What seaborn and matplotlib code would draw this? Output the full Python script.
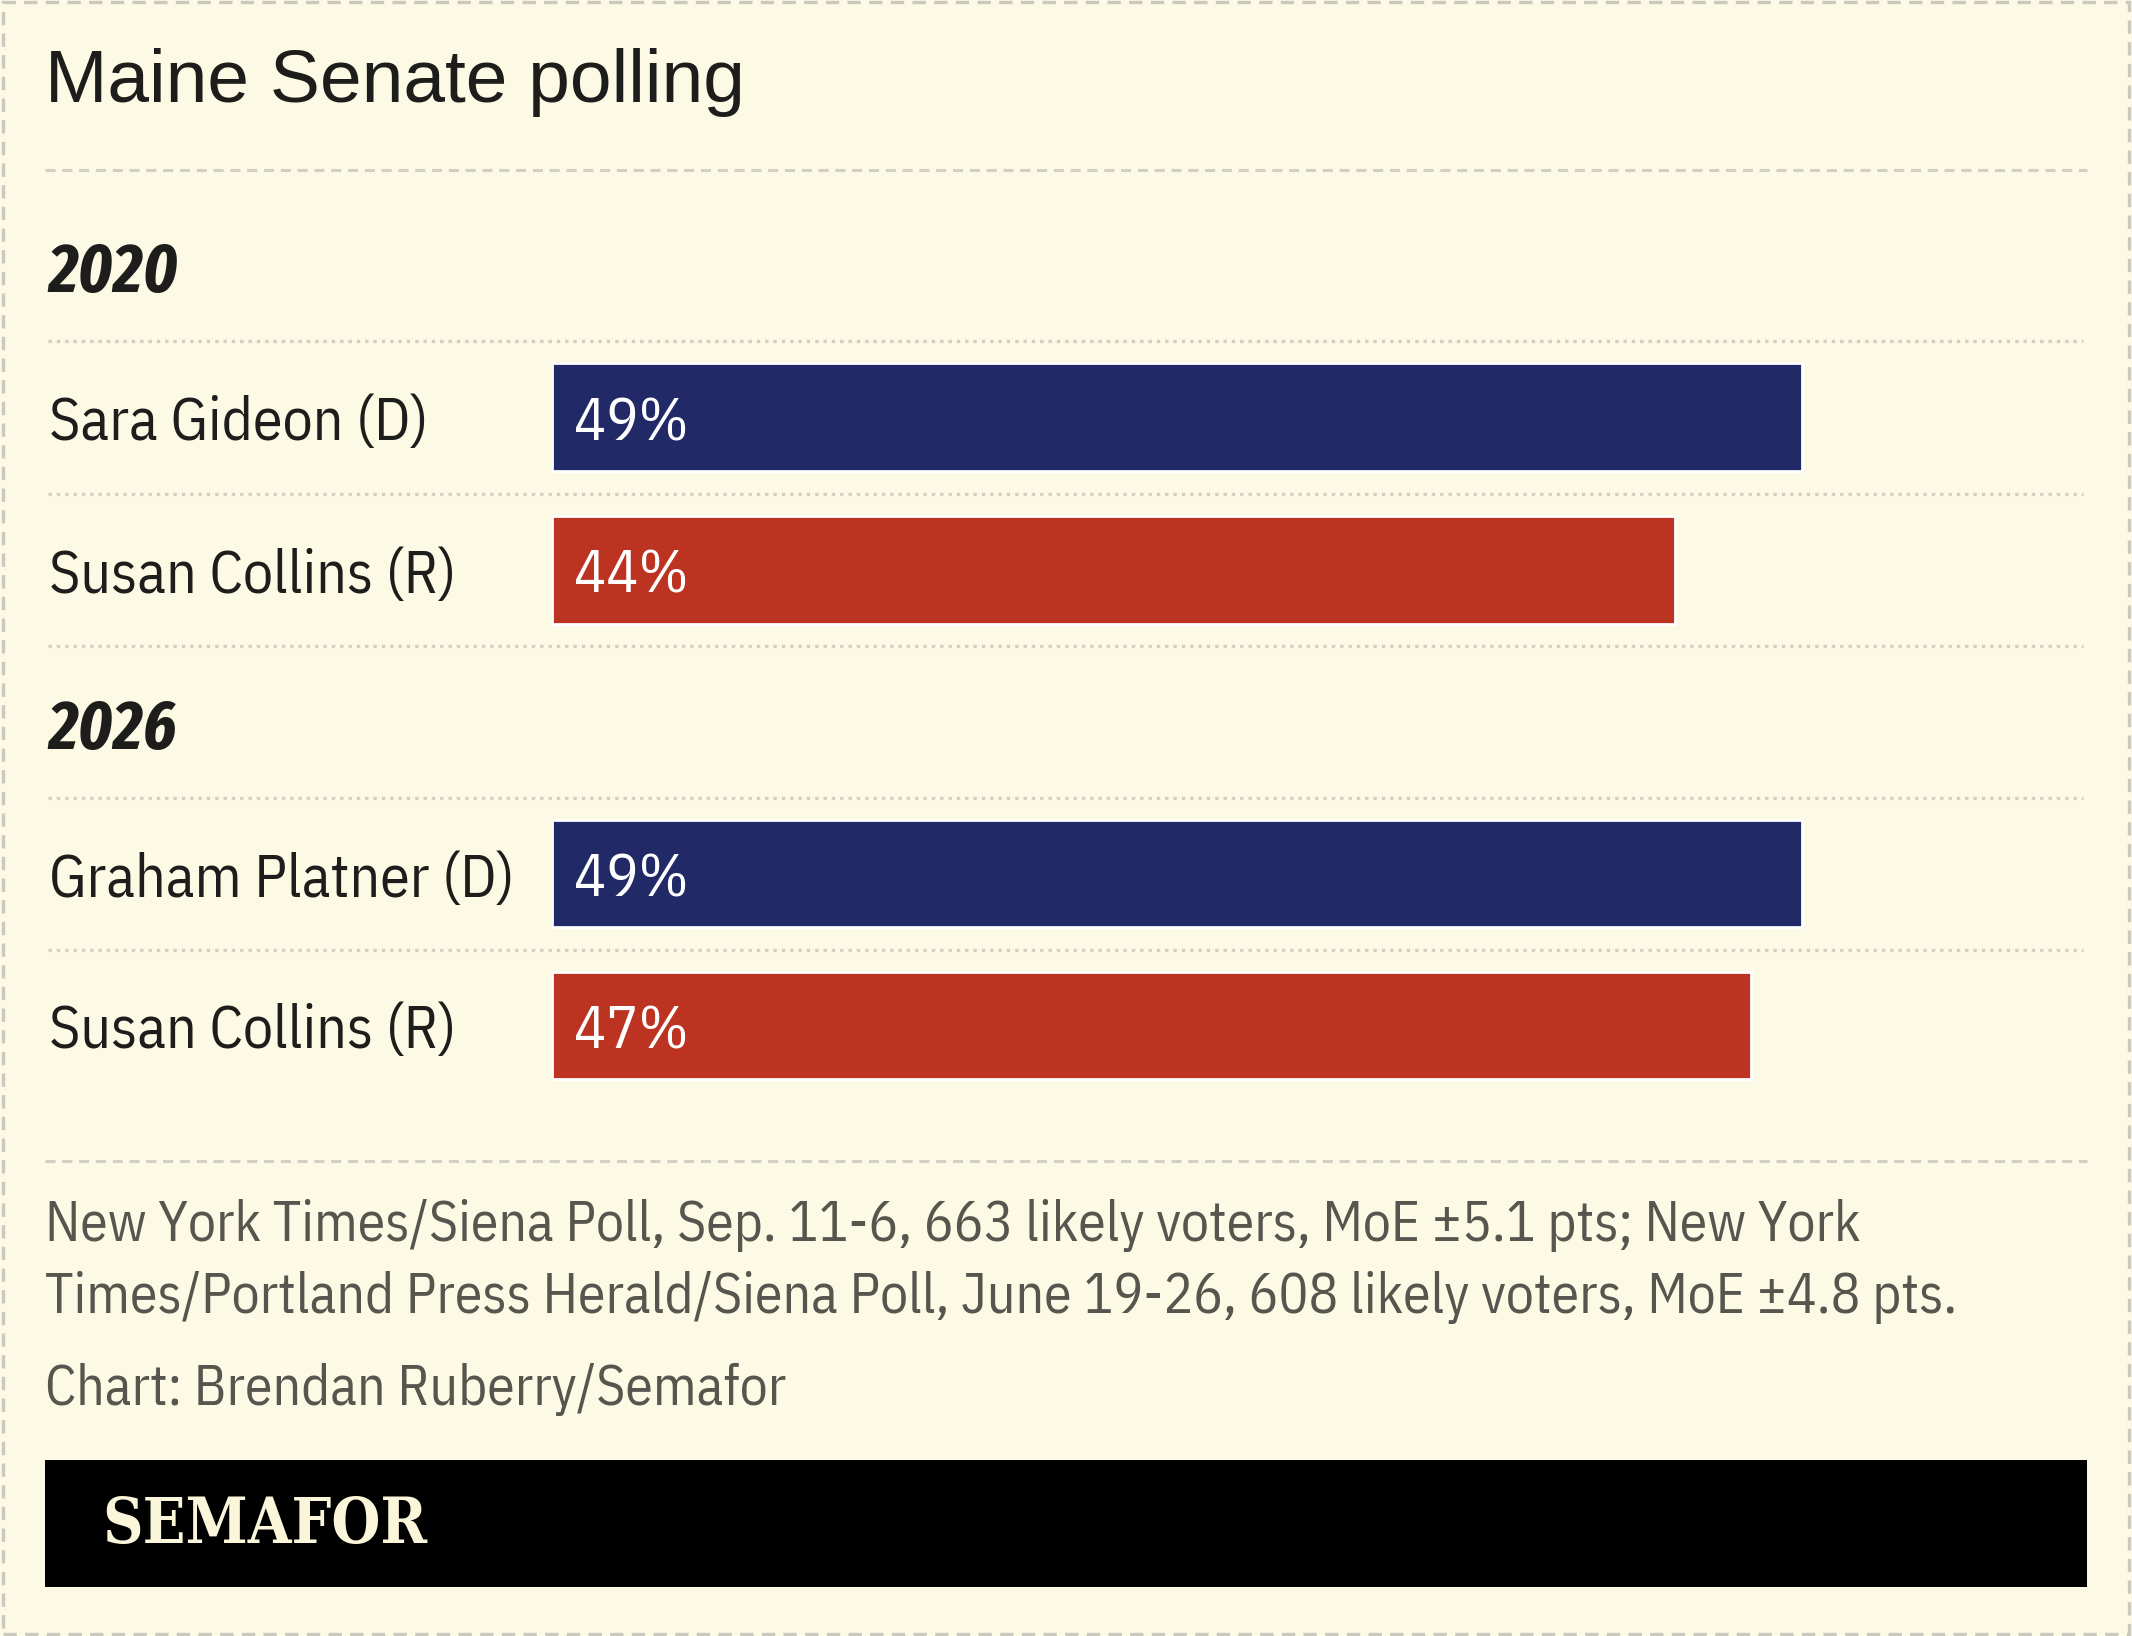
import matplotlib.pyplot as plt
import matplotlib.transforms as mtransforms
from matplotlib.lines import Line2D
from matplotlib.patches import Rectangle
import pandas as pd
import seaborn as sns

# data
years = ['2020', '2026']
candidates = [['Sara Gideon (D)', 'Susan Collins (R)'],
              ['Graham Platner (D)', 'Susan Collins (R)']]
parties = [['D', 'R'], ['D', 'R']]
shares = [[49, 44], [49, 47]]

title = 'Maine Senate polling'
source_lines = ['New York Times/Siena Poll, Sep. 11-6, 663 likely voters, MoE \u00b15.1 pts; New York',
                'Times/Portland Press Herald/Siena Poll, June 19-26, 608 likely voters, MoE \u00b14.8 pts.']
credit = 'Chart: Brendan Ruberry/Semafor'
brand = 'SEMAFOR'

# colours
bg = '#fcf9e5'
party_colors = {'D': '#212a67', 'R': '#bc3321'}
rule = '#d2cfc3'
ink = '#1d1d1b'
grey = '#56554e'

sns.set_theme(style='white')
cond = ['IBM Plex Sans Condensed', 'Fira Sans Condensed', 'DejaVu Sans']
plt.rcParams['font.family'] = cond

W, H = 2132, 1636
fig = plt.figure(figsize=(W / 200, H / 200), dpi=200, facecolor=bg)


def fx(px):
    return px / W


def fy(py):
    return 1 - py / H


# outer dashed frame
fig.add_artist(Rectangle((0.0012, 0.0015), 0.9976, 0.997, transform=fig.transFigure,
                         fill=False, ec='#cbc8bd', lw=1.2, ls=(0, (4, 2.5))))

# title + rules
fig.text(fx(45), fy(102), title, va='baseline', ha='left', fontsize=27, color=ink,
         family=['Liberation Sans', 'DejaVu Sans'])
for y in (170, 1161):
    fig.add_artist(Line2D([fx(45), fx(2087)], [fy(y), fy(y)], transform=fig.transFigure,
                          color=rule, lw=1.1, ls=(0, (3.3, 2.2))))

# bar groups
ax_left, ax_right = 552, 2083
rows = [(341, 646), (798, 1101)]
for i, (year, names, party, vals) in enumerate(zip(years, candidates, parties, shares)):
    top, bottom = rows[i]
    ax = fig.add_axes([fx(ax_left), fy(bottom), fx(ax_right) - fx(ax_left), fy(top) - fy(bottom)])
    df = pd.DataFrame({'name': names, 'party': party, 'share': vals})
    sns.barplot(data=df, x='share', y='name', hue='party', palette=party_colors,
                dodge=False, width=0.705, saturation=1, legend=False, ax=ax)
    ax.set_xlim(0, 60)
    ax.set_ylim(len(names) - 0.5, -0.5)
    ax.set_axis_off()

    xmin = (48 - ax_left) / (ax_right - ax_left)
    n_lines = len(names) + 1 if i == 0 else len(names)
    for k in range(n_lines):
        ax.axhline(k - 0.5, xmin=xmin, xmax=1.0, clip_on=False, color=rule,
                   lw=1.2, ls=(0, (1, 1.5)))

    trans = mtransforms.blended_transform_factory(fig.transFigure, ax.transData)
    for j, (name, v) in enumerate(zip(names, vals)):
        ax.annotate(name, xy=(fx(49), j), xycoords=trans, xytext=(0, -2.4),
                    textcoords='offset points', ha='left', va='center',
                    fontsize=21.5, color=ink)
        ax.annotate(f'{v}%', xy=(0, j), xytext=(7.9, -2.4), textcoords='offset points',
                    ha='left', va='center', fontsize=21.5, color='white')

    fig.text(fx(48), fy(top - 68), year, ha='left', va='center', fontsize=25,
             fontweight='bold', fontstyle='italic', color=ink,
             family=['Fira Sans Extra Condensed', 'DejaVu Sans'])

# footer
for k, line in enumerate(source_lines):
    fig.text(fx(45), fy(1225 + 72 * k), line, ha='left', va='center', fontsize=20, color=grey)
fig.text(fx(45), fy(1390), credit, ha='left', va='center', fontsize=20, color=grey)

fig.add_artist(Rectangle((fx(45), fy(1587)), fx(2087) - fx(45), fy(1460) - fy(1587),
                         transform=fig.transFigure, facecolor='black', edgecolor='none'))
fig.text(fx(102), fy(1526), brand, ha='left', va='center', fontsize=22.5, fontweight='bold',
         fontstretch='condensed', color='#fbf6d9', family=['DejaVu Serif'])

fig.savefig('out.png', dpi=200, facecolor=bg)
